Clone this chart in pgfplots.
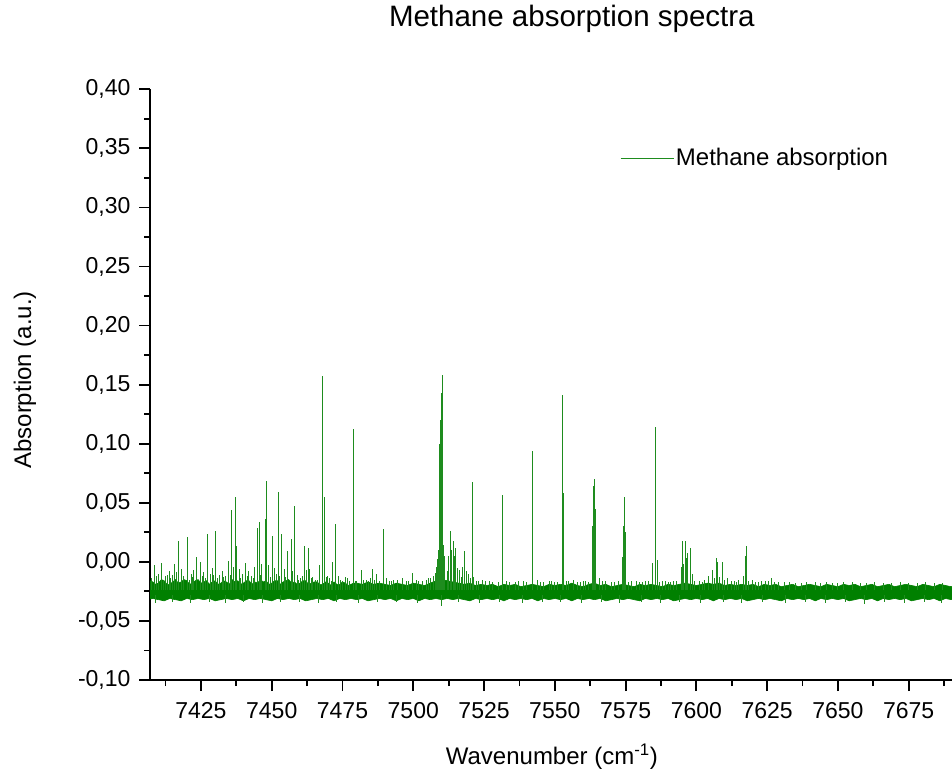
\documentclass[border=0pt]{standalone}
\usepackage{fontspec}
\setmainfont{Liberation Sans}
\usepackage{pgfplots}
\pgfplotsset{compat=1.18}
\usepackage{pgfplotstable}
\definecolor{specgreen}{RGB}{0,128,0}
\definecolor{linegreen}{RGB}{30,140,30}

% noise band of the baseline: upper envelope, then lower envelope backwards
\pgfplotstableread{
x y
7406 -0.019
7407 -0.016
7408 -0.017
7409 -0.019
7410 -0.018
7411 -0.015
7412 -0.016
7413 -0.019
7414 -0.019
7415 -0.017
7416 -0.015
7417 -0.018
7418 -0.017
7419 -0.015
7420 -0.016
7421 -0.019
7422 -0.018
7423 -0.016
7424 -0.015
7425 -0.018
7426 -0.017
7427 -0.016
7428 -0.019
7429 -0.017
7430 -0.016
7431 -0.019
7432 -0.018
7433 -0.016
7434 -0.017
7435 -0.019
7436 -0.015
7437 -0.017
7438 -0.016
7439 -0.019
7440 -0.018
7441 -0.016
7442 -0.016
7443 -0.019
7444 -0.017
7445 -0.018
7446 -0.015
7447 -0.017
7448 -0.016
7449 -0.019
7450 -0.018
7451 -0.016
7452 -0.016
7453 -0.019
7454 -0.017
7455 -0.016
7456 -0.015
7457 -0.018
7458 -0.017
7459 -0.019
7460 -0.018
7461 -0.016
7462 -0.016
7463 -0.019
7464 -0.018
7465 -0.017
7466 -0.017
7467 -0.019
7468 -0.019
7469 -0.017
7470 -0.018
7471 -0.020
7472 -0.017
7473 -0.019
7474 -0.019
7475 -0.017
7476 -0.018
7477 -0.020
7478 -0.019
7479 -0.018
7480 -0.018
7482 -0.019
7484 -0.017
7486 -0.019
7488 -0.018
7490 -0.019
7492 -0.020
7494 -0.018
7496 -0.019
7498 -0.020
7500 -0.018
7502 -0.019
7504 -0.020
7506 -0.018
7508 -0.016
7510 -0.015
7512 -0.016
7514 -0.017
7516 -0.018
7518 -0.019
7520 -0.018
7522 -0.020
7524 -0.019
7526 -0.020
7528 -0.019
7530 -0.021
7532 -0.019
7534 -0.020
7536 -0.019
7538 -0.021
7540 -0.020
7542 -0.019
7544 -0.020
7546 -0.021
7548 -0.019
7550 -0.020
7552 -0.019
7554 -0.020
7556 -0.018
7558 -0.020
7560 -0.021
7562 -0.019
7564 -0.018
7566 -0.020
7568 -0.019
7570 -0.021
7572 -0.020
7574 -0.019
7576 -0.020
7578 -0.021
7580 -0.019
7582 -0.020
7584 -0.019
7586 -0.020
7588 -0.021
7590 -0.019
7592 -0.020
7594 -0.019
7596 -0.018
7598 -0.019
7600 -0.020
7602 -0.019
7604 -0.018
7606 -0.019
7608 -0.018
7610 -0.020
7612 -0.019
7614 -0.020
7616 -0.019
7618 -0.020
7620 -0.019
7622 -0.021
7624 -0.019
7626 -0.020
7628 -0.019
7630 -0.021
7632 -0.020
7634 -0.019
7636 -0.021
7638 -0.020
7640 -0.019
7642 -0.020
7644 -0.021
7646 -0.019
7648 -0.020
7650 -0.021
7652 -0.019
7654 -0.020
7656 -0.019
7658 -0.021
7660 -0.020
7662 -0.019
7664 -0.021
7666 -0.020
7668 -0.019
7670 -0.021
7672 -0.020
7674 -0.019
7676 -0.020
7678 -0.021
7680 -0.019
7682 -0.020
7684 -0.021
7686 -0.019
7688 -0.020
7690 -0.021
7692 -0.020
7692 -0.031
7690 -0.032
7688 -0.031
7686 -0.033
7684 -0.031
7682 -0.032
7680 -0.031
7678 -0.032
7676 -0.033
7674 -0.031
7672 -0.032
7670 -0.031
7668 -0.032
7666 -0.031
7664 -0.033
7662 -0.031
7660 -0.032
7658 -0.031
7656 -0.032
7654 -0.033
7652 -0.031
7650 -0.032
7648 -0.031
7646 -0.032
7644 -0.031
7642 -0.033
7640 -0.031
7638 -0.032
7636 -0.031
7634 -0.032
7632 -0.031
7630 -0.033
7628 -0.032
7626 -0.031
7624 -0.032
7622 -0.031
7620 -0.032
7618 -0.033
7616 -0.031
7614 -0.032
7612 -0.031
7610 -0.032
7608 -0.031
7606 -0.033
7604 -0.031
7602 -0.032
7600 -0.031
7598 -0.032
7596 -0.031
7594 -0.032
7592 -0.033
7590 -0.031
7588 -0.032
7586 -0.031
7584 -0.032
7582 -0.031
7580 -0.033
7578 -0.032
7576 -0.031
7574 -0.032
7572 -0.031
7570 -0.032
7568 -0.033
7566 -0.031
7564 -0.032
7562 -0.031
7560 -0.032
7558 -0.031
7556 -0.033
7554 -0.031
7552 -0.032
7550 -0.031
7548 -0.032
7546 -0.031
7544 -0.033
7542 -0.031
7540 -0.032
7538 -0.031
7536 -0.032
7534 -0.031
7532 -0.033
7530 -0.031
7528 -0.032
7526 -0.031
7524 -0.032
7522 -0.031
7520 -0.033
7518 -0.032
7516 -0.031
7514 -0.032
7512 -0.031
7510 -0.032
7508 -0.031
7506 -0.032
7504 -0.031
7502 -0.033
7500 -0.031
7498 -0.032
7496 -0.031
7494 -0.033
7492 -0.031
7490 -0.032
7488 -0.031
7486 -0.032
7484 -0.033
7482 -0.031
7480 -0.032
7478 -0.031
7476 -0.032
7474 -0.031
7472 -0.033
7470 -0.031
7468 -0.032
7466 -0.031
7464 -0.032
7462 -0.033
7460 -0.031
7458 -0.032
7456 -0.031
7454 -0.032
7452 -0.031
7450 -0.033
7448 -0.032
7446 -0.031
7444 -0.032
7442 -0.031
7440 -0.033
7438 -0.031
7436 -0.032
7434 -0.031
7432 -0.032
7430 -0.033
7428 -0.031
7426 -0.032
7424 -0.031
7422 -0.032
7420 -0.031
7418 -0.033
7416 -0.032
7414 -0.031
7412 -0.033
7410 -0.032
7408 -0.031
7406 -0.032
}\bandtable

% absorption lines: position, foot inside the band, tip
\pgfplotstableread{
x b p
7408.7 -0.024 -0.003
7410.0 -0.024 -0.010
7411.0 -0.024 -0.001
7412.5 -0.024 -0.012
7413.8 -0.024 -0.008
7415.0 -0.024 -0.011
7415.7 -0.024 -0.002
7416.9 -0.024 0.007
7417.2 -0.024 0.018
7418.2 -0.024 -0.006
7419.0 -0.024 -0.013
7420.3 -0.024 0.021
7421.5 -0.024 -0.010
7422.5 -0.024 -0.007
7423.6 -0.024 0.004
7424.8 -0.024 -0.0005
7426.0 -0.024 -0.009
7427.4 -0.024 0.024
7428.3 -0.024 -0.010
7429.0 -0.024 -0.005
7430.3 -0.024 0.026
7431.5 -0.024 -0.011
7432.5 -0.024 -0.008
7433.8 -0.024 -0.012
7434.8 -0.024 0.001
7435.9 -0.024 0.0435
7436.6 -0.024 -0.004
7437.3 -0.024 0.055
7437.6 -0.024 0.013
7438.5 -0.024 -0.006
7439.5 -0.024 -0.010
7440.7 -0.024 -0.001
7441.8 -0.024 -0.008
7442.8 -0.024 -0.012
7444.0 -0.024 -0.004
7444.9 -0.024 0.029
7445.7 -0.024 0.034
7446.5 -0.024 -0.002
7447.7 -0.024 0.0365
7448.1 -0.024 0.0686
7449.0 -0.024 -0.003
7450.2 -0.024 0.022
7451.0 -0.024 -0.005
7451.7 -0.024 -0.010
7452.4 -0.024 0.059
7453.6 -0.024 0.024
7454.5 -0.024 -0.006
7455.7 -0.024 0.009
7456.9 -0.024 0.019
7457.5 -0.024 -0.008
7458.2 -0.024 0.0475
7459.0 -0.024 -0.011
7460.0 -0.024 -0.014
7461.4 -0.024 0.0136
7462.2 -0.024 -0.007
7462.9 -0.024 0.0117
7463.5 -0.024 -0.006
7464.5 -0.024 -0.013
7465.5 -0.024 -0.015
7466.9 -0.024 -0.0024
7467.9 -0.024 0.1575
7468.7 -0.024 0.0553
7469.6 -0.024 -0.012
7470.5 -0.024 -0.014
7471.4 -0.024 -0.0002
7472.5 -0.024 0.032
7473.5 -0.024 -0.012
7475.0 -0.024 -0.016
7476.0 -0.024 -0.013
7477.5 -0.024 -0.016
7478.8 -0.024 0.040
7478.9 -0.024 0.1124
7480.0 -0.024 -0.016
7481.7 -0.024 -0.0073
7483.5 -0.024 -0.015
7485.0 -0.024 -0.014
7485.7 -0.024 -0.006
7487.0 -0.024 -0.010
7489.4 -0.024 0.028
7491.5 -0.024 -0.016
7493.0 -0.024 -0.015
7496.1 -0.024 -0.0137
7497.5 -0.024 -0.016
7499.9 -0.024 -0.0095
7502.0 -0.024 -0.016
7504.5 -0.024 -0.015
7506.0 -0.024 -0.014
7507.3 -0.024 -0.012
7508.0 -0.024 -0.0095
7508.3 -0.024 -0.004
7508.5 -0.024 0.002
7508.8 -0.024 -0.002
7509.0 -0.024 0.010
7509.2 -0.024 0.025
7509.3 -0.024 0.050
7509.4 -0.024 0.100
7509.55 -0.024 0.060
7509.7 -0.024 0.120
7509.9 -0.024 0.143
7510.05 -0.024 0.090
7510.2 -0.024 0.158
7510.35 -0.024 0.080
7510.6 -0.024 0.0145
7510.9 -0.024 0.005
7511.2 -0.024 -0.002
7512.0 -0.024 -0.008
7512.6 -0.024 0.005
7513.2 -0.024 0.0257
7513.6 -0.024 0.010
7514.1 -0.024 0.018
7514.6 -0.024 0.005
7515.0 -0.024 0.0117
7515.6 -0.024 -0.005
7516.4 -0.024 -0.007
7517.3 -0.024 -0.004
7518.0 -0.024 0.0088
7518.8 -0.024 -0.008
7519.5 -0.024 -0.010
7520.9 -0.024 0.0675
7521.4 -0.024 -0.013
7523.0 -0.024 -0.016
7525.5 -0.024 -0.016
7528.0 -0.024 -0.017
7531.5 -0.024 0.0562
7534.0 -0.024 -0.017
7537.0 -0.024 -0.016
7540.0 -0.024 -0.017
7542.1 -0.024 0.094
7543.8 -0.024 -0.015
7546.0 -0.024 -0.017
7549.0 -0.024 -0.016
7551.0 -0.024 -0.017
7552.6 -0.024 -0.0124
7552.8 -0.024 0.1414
7553.2 -0.024 0.0582
7555.0 -0.024 -0.016
7556.5 -0.024 -0.015
7559.0 -0.024 -0.017
7561.0 -0.024 -0.016
7563.2 -0.024 0.030
7563.5 -0.024 0.050
7563.7 -0.024 0.0638
7564.1 -0.024 0.0703
7564.4 -0.024 0.045
7565.8 -0.024 -0.0137
7568.0 -0.024 -0.016
7571.0 -0.024 -0.017
7573.8 -0.024 0.0037
7574.3 -0.024 0.030
7574.6 -0.024 0.0553
7575.1 -0.024 0.0249
7577.0 -0.024 -0.016
7580.0 -0.024 -0.017
7582.0 -0.024 -0.016
7584.4 -0.024 -0.001
7585.6 -0.024 0.1145
7586.4 -0.024 0.0018
7588.0 -0.024 -0.016
7590.0 -0.024 -0.017
7592.0 -0.024 -0.016
7594.6 -0.024 -0.004
7595.0 -0.024 0.0179
7595.6 -0.024 -0.002
7596.2 -0.024 0.0179
7596.6 -0.024 0.003
7596.9 -0.024 0.0074
7597.8 -0.024 0.0117
7598.5 -0.024 -0.010
7601.0 -0.024 -0.016
7603.0 -0.024 -0.015
7604.4 -0.024 -0.0118
7605.6 -0.024 -0.0067
7607.0 -0.024 0.0029
7607.3 -0.024 0.000
7609.1 -0.024 0.0003
7611.0 -0.024 -0.014
7613.5 -0.024 -0.016
7615.0 -0.024 -0.015
7616.5 -0.024 -0.012
7617.3 -0.024 0.0046
7617.7 -0.024 0.013
7619.7 -0.024 -0.015
7622.0 -0.024 -0.017
7624.5 -0.024 -0.016
7626.5 -0.024 -0.0137
7629.0 -0.024 -0.017
7633.0 -0.024 -0.017
7637.0 -0.024 -0.018
7642.0 -0.024 -0.017
7648.0 -0.024 -0.018
7652.0 -0.024 -0.017
7660.0 -0.024 -0.018
7666.0 -0.024 -0.018
7675.0 -0.024 -0.018
7684.0 -0.024 -0.018
7407.5 -0.024 -0.014
7409.3 -0.024 -0.012
7411.8 -0.024 -0.015
7413.2 -0.024 -0.011
7414.4 -0.024 -0.014
7416.2 -0.024 -0.009
7418.8 -0.024 -0.012
7420.9 -0.024 -0.015
7422.0 -0.024 -0.013
7425.4 -0.024 -0.012
7426.7 -0.024 -0.014
7429.6 -0.024 -0.011
7431.0 -0.024 -0.014
7433.0 -0.024 -0.013
7435.3 -0.024 -0.011
7439.0 -0.024 -0.014
7441.3 -0.024 -0.012
7443.4 -0.024 -0.014
7446.0 -0.024 -0.011
7449.5 -0.024 -0.013
7452.9 -0.024 -0.012
7455.0 -0.024 -0.013
7457.0 -0.024 -0.011
7459.6 -0.024 -0.015
7461.0 -0.024 -0.012
7464.0 -0.024 -0.014
7466.2 -0.024 -0.015
7469.2 -0.024 -0.013
7471.0 -0.024 -0.016
7474.2 -0.024 -0.015
7476.7 -0.024 -0.014
7479.6 -0.024 -0.016
7482.5 -0.024 -0.015
7484.3 -0.024 -0.016
7486.4 -0.024 -0.015
7488.2 -0.024 -0.016
7490.5 -0.024 -0.014
7492.2 -0.024 -0.016
7494.5 -0.024 -0.015
7498.4 -0.024 -0.016
7501.0 -0.024 -0.015
7503.2 -0.024 -0.016
7505.3 -0.024 -0.014
7516.9 -0.024 -0.013
7520.2 -0.024 -0.014
7522.3 -0.024 -0.016
7524.5 -0.024 -0.015
7527.0 -0.024 -0.016
7530.0 -0.024 -0.017
7533.0 -0.024 -0.016
7536.0 -0.024 -0.017
7539.0 -0.024 -0.016
7545.0 -0.024 -0.017
7548.0 -0.024 -0.016
7550.0 -0.024 -0.017
7554.0 -0.024 -0.016
7558.0 -0.024 -0.017
7560.0 -0.024 -0.016
7562.0 -0.024 -0.017
7567.0 -0.024 -0.016
7570.0 -0.024 -0.017
7572.5 -0.024 -0.016
7576.0 -0.024 -0.017
7579.0 -0.024 -0.016
7581.0 -0.024 -0.017
7583.0 -0.024 -0.016
7587.0 -0.024 -0.017
7589.0 -0.024 -0.016
7591.0 -0.024 -0.017
7593.0 -0.024 -0.016
7599.5 -0.024 -0.016
7602.0 -0.024 -0.017
7606.5 -0.024 -0.014
7608.2 -0.024 -0.013
7610.0 -0.024 -0.015
7612.5 -0.024 -0.016
7614.3 -0.024 -0.017
7618.5 -0.024 -0.016
7621.0 -0.024 -0.017
7623.0 -0.024 -0.016
7625.5 -0.024 -0.016
7627.5 -0.024 -0.017
7631.0 -0.024 -0.017
7635.0 -0.024 -0.018
7639.0 -0.024 -0.017
7644.0 -0.024 -0.018
7646.0 -0.024 -0.017
7650.0 -0.024 -0.018
7655.0 -0.024 -0.017
7658.0 -0.024 -0.018
7663.0 -0.024 -0.017
7669.0 -0.024 -0.018
7672.0 -0.024 -0.017
7678.0 -0.024 -0.018
7681.0 -0.024 -0.017
7687.0 -0.024 -0.018
7409.0 -0.028 -0.035
7414.9 -0.028 -0.034
7421.2 -0.028 -0.035
7427.9 -0.028 -0.034
7433.5 -0.028 -0.035
7440.2 -0.028 -0.034
7446.8 -0.028 -0.035
7453.0 -0.028 -0.034
7459.8 -0.028 -0.034
7466.5 -0.028 -0.035
7473.0 -0.028 -0.034
7480.5 -0.028 -0.035
7487.5 -0.028 -0.034
7494.0 -0.028 -0.034
7501.5 -0.028 -0.035
7509.8 -0.028 -0.037
7516.0 -0.028 -0.034
7523.5 -0.028 -0.035
7530.5 -0.028 -0.034
7538.5 -0.028 -0.035
7545.5 -0.028 -0.034
7552.0 -0.028 -0.034
7559.5 -0.028 -0.035
7566.5 -0.028 -0.034
7573.0 -0.028 -0.035
7580.5 -0.028 -0.034
7587.5 -0.028 -0.035
7594.0 -0.028 -0.034
7601.5 -0.028 -0.035
7609.5 -0.028 -0.034
7616.0 -0.028 -0.035
7623.5 -0.028 -0.034
7631.5 -0.028 -0.035
7638.5 -0.028 -0.034
7645.5 -0.028 -0.035
7652.5 -0.028 -0.034
7659.5 -0.028 -0.036
7666.5 -0.028 -0.034
7673.5 -0.028 -0.035
7680.5 -0.028 -0.034
7686.5 -0.028 -0.035
}\linetable

\begin{document}
\begin{tikzpicture}[x=1pt,y=1pt]
\useasboundingbox (0,0) rectangle (952,773);
\begin{axis}[
  at={(150pt,93pt)}, anchor=south west,
  scale only axis, width=802pt, height=590.7pt,
  xmin=7407, xmax=7690.3, ymin=-0.10, ymax=0.40,
  axis x line*=bottom, axis y line*=left,
  axis line style={-, line width=2pt, black},
  x axis line style={-}, y axis line style={-},
  tick align=outside,
  major tick length=11pt, minor tick length=6pt,
  tick style={line width=1.8pt, black},
  xtick={7425,7450,7475,7500,7525,7550,7575,7600,7625,7650,7675},
  minor xtick={7412.5,7437.5,7462.5,7487.5,7512.5,7537.5,7562.5,7587.5,7612.5,7637.5,7662.5,7687.5},
  ytick={-0.10,-0.05,0,0.05,0.10,0.15,0.20,0.25,0.30,0.35,0.40},
  minor ytick={-0.075,-0.025,0.025,0.075,0.125,0.175,0.225,0.275,0.325,0.375},
  /pgf/number format/assume math mode=true,
  tick label style={font=\fontsize{23}{27}\selectfont},
  xticklabel style={yshift=-8pt, /pgf/number format/set thousands separator={}},
  yticklabel style={xshift=-5pt, /pgf/number format/.cd, fixed, fixed zerofill, precision=2, use comma},
  title={Methane absorption spectra},
  title style={at={(0.526,1.1089)}, anchor=center, yshift=0pt, font=\fontsize{29.5}{34}\selectfont},
  xlabel={Wavenumber (cm\textsuperscript{-1})},
  xlabel style={at={(0.501,-0.1304)}, anchor=center, font=\fontsize{24}{28}\selectfont},
  ylabel={Absorption (a.u.)},
  ylabel style={at={(-0.1559,0.5079)}, anchor=center, font=\fontsize{24}{28}\selectfont},
  legend image code/.code={\draw[#1] (0pt,0pt) -- (53pt,0pt);},
  legend style={at={(0.586,0.8837)}, anchor=west, draw=none, fill=none,
    inner sep=0pt, font=\fontsize{24}{28}\selectfont,
    /tikz/every even column/.append style={column sep=10pt}},
]
\addlegendimage{linegreen, line width=0.8pt}
\addlegendentry{Methane absorption}
\addplot[fill=specgreen, draw=specgreen, line width=0.6pt, forget plot]
  table[x=x, y=y] {\bandtable};
\addplot[linegreen, line width=1pt, forget plot,
  quiver={u=0, v={\thisrow{p}-\thisrow{b}}}]
  table[x=x, y=b] {\linetable};
\end{axis}
\end{tikzpicture}
\end{document}
